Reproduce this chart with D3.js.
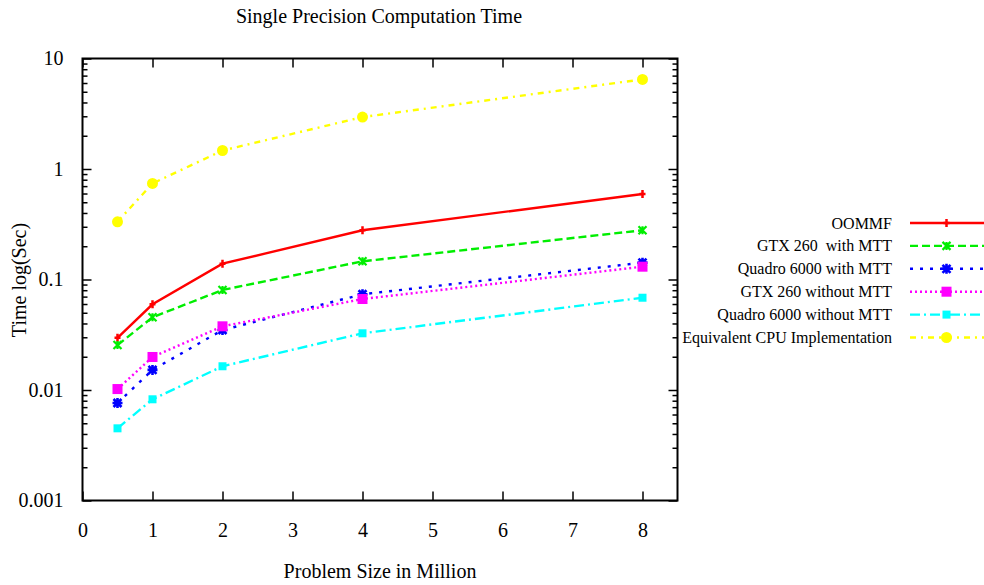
<!DOCTYPE html>
<html><head><meta charset="utf-8">
<script src="https://cdn.jsdelivr.net/npm/d3@7"></script>
<style>body{margin:0;background:#fff}svg{display:block}text{font-family:"Liberation Serif","Times New Roman",serif;fill:#000}</style>
</head><body>
<script>
const xValues = [0.5, 1, 2, 4, 8];
const seriesNames = ["OOMMF", "GTX 260  with MTT", "Quadro 6000 with MTT", "GTX 260 without MTT", "Quadro 6000 without MTT", "Equivalent CPU Implementation"];
const oommf = [0.0297, 0.0596, 0.139, 0.279, 0.594];
const gtxMTT = [0.0255, 0.0455, 0.0804, 0.146, 0.279];
const quadroMTT = [0.00762, 0.0152, 0.0349, 0.0735, 0.142];
const gtxNoMTT = [0.0102, 0.0199, 0.0377, 0.0666, 0.1306];
const quadroNoMTT = [0.0045, 0.00824, 0.0164, 0.0326, 0.0684];
const cpu = [0.333, 0.74, 1.47, 2.95, 6.47];
const xTicks = [0, 1, 2, 3, 4, 5, 6, 7, 8];
const yTicks = [0.001, 0.01, 0.1, 1, 10];
const yTickLabels = ["0.001", "0.01", "0.1", "1", "10"];

const W = 984, H = 585;
const L = 82.5, R = 677.5, T = 58.5, B = 500.5;
const svg = d3.select("body").append("svg").attr("width", W).attr("height", H);

const x = d3.scaleLinear().domain([0, 8.5]).range([L, R]);
const y = d3.scaleLog().domain([0.001, 10]).range([B, T]);

const minor = [];
for (let e = -3; e < 1; e++) for (let m = 2; m <= 9; m++) minor.push(m * Math.pow(10, e));

const fs = 20;
// minor ticks
svg.append("g").attr("transform", `translate(${L},0)`).call(d3.axisLeft(y).tickValues(minor).tickSize(-5).tickFormat(""))
  .call(g => g.select(".domain").remove());
svg.append("g").attr("transform", `translate(${R},0)`).call(d3.axisRight(y).tickValues(minor).tickSize(-5).tickFormat(""))
  .call(g => g.select(".domain").remove());
// major y
svg.append("g").attr("transform", `translate(${L},0)`)
  .call(d3.axisLeft(y).tickValues(yTicks).tickSize(-9).tickPadding(19).tickFormat((d, i) => yTickLabels[i]))
  .call(g => g.select(".domain").remove())
  .call(g => g.selectAll("text").style("font-size", fs + "px").style("font-family", "Liberation Serif"));
svg.append("g").attr("transform", `translate(${R},0)`)
  .call(d3.axisRight(y).tickValues(yTicks).tickSize(-9).tickFormat(""))
  .call(g => g.select(".domain").remove());
// x axes
svg.append("g").attr("transform", `translate(0,${B})`)
  .call(d3.axisBottom(x).tickValues(xTicks).tickSize(-9).tickPadding(22).tickFormat(d3.format("d")))
  .call(g => g.select(".domain").remove())
  .call(g => g.selectAll("text").style("font-size", fs + "px").style("font-family", "Liberation Serif"));
svg.append("g").attr("transform", `translate(0,${T})`)
  .call(d3.axisTop(x).tickValues(xTicks).tickSize(-9).tickFormat(""))
  .call(g => g.select(".domain").remove());
svg.selectAll(".tick line").attr("stroke", "#000").attr("stroke-width", 1.5);

svg.append("rect").attr("x", L).attr("y", T).attr("width", R - L).attr("height", B - T)
  .attr("fill", "none").attr("stroke", "#000").attr("stroke-width", 2);

// labels
svg.append("text").attr("x", 379).attr("y", 23).attr("text-anchor", "middle").style("font-size", "20px").text("Single Precision Computation Time");
svg.append("text").attr("x", 380).attr("y", 578).attr("text-anchor", "middle").style("font-size", "20px").text("Problem Size in Million");
svg.append("text").attr("transform", "translate(26,280) rotate(-90)").attr("text-anchor", "middle").style("font-size", "20px").text("Time log(Sec)");

const series = [
  {name: seriesNames[0], v: oommf, c: "#ff0000", dash: null, m: "plus"},
  {name: seriesNames[1], v: gtxMTT, c: "#00ee00", dash: "8,4", m: "cross"},
  {name: seriesNames[2], v: quadroMTT, c: "#0000ff", dash: "3,7", m: "star"},
  {name: seriesNames[3], v: gtxNoMTT, c: "#ff00ff", dash: "2,3", m: "square"},
  {name: seriesNames[4], v: quadroNoMTT, c: "#00ffff", dash: "10,4,2,4", m: "sqsmall"},
  {name: seriesNames[5], v: cpu, c: "#ffff00", dash: "6,5,2,5", m: "circle"}
];

function marker(g, type, c, cx, cy) {
  if (type === "plus") {
    g.append("path").attr("d", `M${cx - 3},${cy}H${cx + 3}M${cx},${cy - 4}V${cy + 4}`).attr("stroke", c).attr("stroke-width", 2.5);
  } else if (type === "cross") {
    g.append("path").attr("d", `M${cx - 4},${cy - 4}L${cx + 4},${cy + 4}M${cx - 4},${cy + 4}L${cx + 4},${cy - 4}M${cx},${cy - 4}V${cy + 4}`).attr("stroke", c).attr("stroke-width", 2.2);
  } else if (type === "star") {
    g.append("path").attr("d", `M${cx - 4},${cy - 4}L${cx + 4},${cy + 4}M${cx - 4},${cy + 4}L${cx + 4},${cy - 4}M${cx - 5},${cy}H${cx + 5}M${cx},${cy - 5}V${cy + 5}`).attr("stroke", c).attr("stroke-width", 2.6);
  } else if (type === "square") {
    g.append("rect").attr("x", cx - 5).attr("y", cy - 5).attr("width", 10).attr("height", 10).attr("fill", c);
  } else if (type === "sqsmall") {
    g.append("rect").attr("x", cx - 4).attr("y", cy - 4).attr("width", 8).attr("height", 8).attr("fill", c);
  } else if (type === "circle") {
    g.append("circle").attr("cx", cx).attr("cy", cy).attr("r", 5.5).attr("fill", c);
  }
}

const line = d3.line().x((d, i) => x(xValues[i])).y(d => y(d));
series.forEach(s => {
  const g = svg.append("g");
  g.append("path").datum(s.v).attr("d", line).attr("fill", "none").attr("stroke", s.c)
    .attr("stroke-width", 2.4).attr("stroke-dasharray", s.dash);
  s.v.forEach((d, i) => marker(g, s.m, s.c, x(xValues[i]), y(d)));
});

// legend
const legY = d3.scaleLinear().domain([0, 5]).range([223, 337.5]);
series.forEach((s, i) => {
  const yy = legY(i);
  svg.append("text").attr("x", 892).attr("y", yy + 5.5).attr("text-anchor", "end")
    .style("font-size", "16px").style("white-space", "pre").attr("xml:space", "preserve").text(s.name);
  svg.append("line").attr("x1", 910).attr("x2", 984).attr("y1", yy).attr("y2", yy).attr("stroke", s.c)
    .attr("stroke-width", 2.4).attr("stroke-dasharray", s.dash);
  marker(svg, s.m, s.c, 946.5, yy);
});
</script>
</body></html>
